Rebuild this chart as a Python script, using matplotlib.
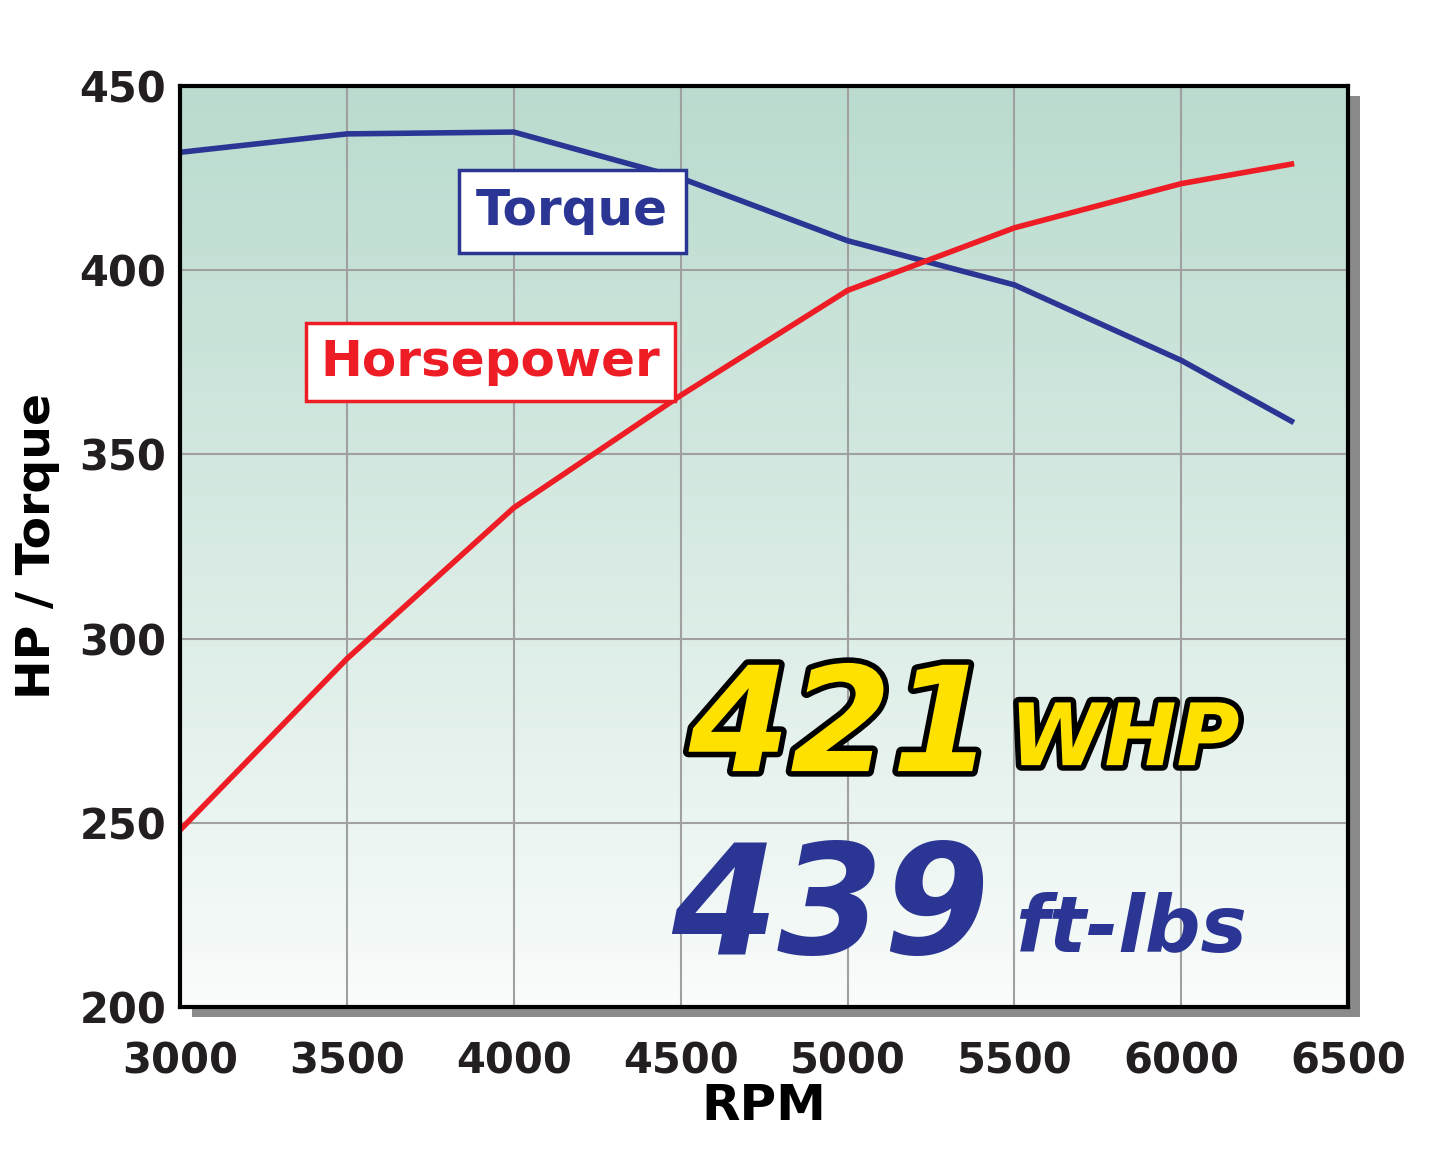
import matplotlib
matplotlib.use("Agg")
import matplotlib.pyplot as plt
import matplotlib.patheffects as pe
import numpy as np

rpm = [3000, 3500, 4000, 4500, 5000, 5500, 6000, 6330]
torque = [432, 437, 437.5, 425, 408, 396, 375.5, 359]
hp = [248, 294.5, 335.5, 366, 394.5, 411.5, 423.5, 428.8]
x_ticks = [3000, 3500, 4000, 4500, 5000, 5500, 6000, 6500]
y_ticks = [200, 250, 300, 350, 400, 450]

FONT = ["Liberation Sans Narrow", "DejaVu Sans"]
BLUE = "#2b3594"
RED = "#ee1c24"

fig = plt.figure(figsize=(14.45, 11.56), dpi=100)
pos = [0.1246, 0.129, 0.8084, 0.7966]

# drop shadow behind the plot frame
shadow = fig.add_axes([pos[0] + 0.008, pos[1] - 0.009, pos[2], pos[3]], zorder=0)
shadow.set_facecolor("#8a8a8a")
shadow.set_xticks([])
shadow.set_yticks([])
for s in shadow.spines.values():
    s.set_visible(False)

ax = fig.add_axes(pos, zorder=1)

grad = np.linspace(0, 1, 256).reshape(-1, 1)
top = np.array([0.73, 0.86, 0.81])
bot = np.array([0.98, 0.99, 0.985])
img = bot + (top - bot) * grad[..., None] ** 0.9
ax.imshow(img, extent=[3000, 6500, 200, 450], origin="lower", aspect="auto", zorder=0)

ax.set_xlim(3000, 6500)
ax.set_ylim(200, 450)
ax.set_xticks(x_ticks)
ax.set_yticks(y_ticks)
ax.grid(True, color="#a0a0a0", linewidth=1.5, zorder=1)
for s in ax.spines.values():
    s.set_linewidth(3)
    s.set_zorder(5)
ax.tick_params(axis="x", length=0, pad=24)
ax.tick_params(axis="y", length=0, pad=10)
for lab in ax.get_xticklabels() + ax.get_yticklabels():
    lab.set_family(FONT)
    lab.set_fontweight("bold")
    lab.set_fontsize(30)
    lab.set_color("#231f20")

ax.plot(rpm, torque, color=BLUE, linewidth=4, zorder=3)
ax.plot(rpm, hp, color=RED, linewidth=4, zorder=3)

ax.set_xlabel("RPM", family=FONT, fontweight="bold", fontsize=36, labelpad=0)
ax.set_ylabel("HP / Torque", family=FONT, fontweight="bold", fontsize=34, labelpad=14)

ax.text(4175, 416, "Torque", ha="center", va="center", fontsize=36, fontweight="bold",
        color=BLUE, family="DejaVu Sans", zorder=6,
        bbox=dict(boxstyle="square,pad=0.35", fc="white", ec=BLUE, lw=2.5))
ax.text(3930, 375, "Horsepower", ha="center", va="center", fontsize=36, fontweight="bold",
        color=RED, family="DejaVu Sans", zorder=6,
        bbox=dict(boxstyle="square,pad=0.3", fc="white", ec=RED, lw=2.5))

outline = [pe.Stroke(linewidth=8, foreground="black"), pe.Normal()]
ax.text(4980, 275, "421", ha="center", va="center", fontsize=105, fontweight="bold",
        style="italic", color="#ffe100", family=FONT, zorder=6, path_effects=outline)
ax.text(5830, 272, "WHP", ha="center", va="center", fontsize=62, fontweight="bold",
        style="italic", color="#ffe100", family=FONT, zorder=6, path_effects=outline)
ax.text(4950, 226, "439", ha="center", va="center", fontsize=110, fontweight="bold",
        style="italic", color=BLUE, family=FONT, zorder=6)
ax.text(5850, 221, "ft-lbs", ha="center", va="center", fontsize=56, fontweight="bold",
        style="italic", color=BLUE, family=FONT, zorder=6)

fig.savefig("out.png", dpi=100, facecolor="white")
